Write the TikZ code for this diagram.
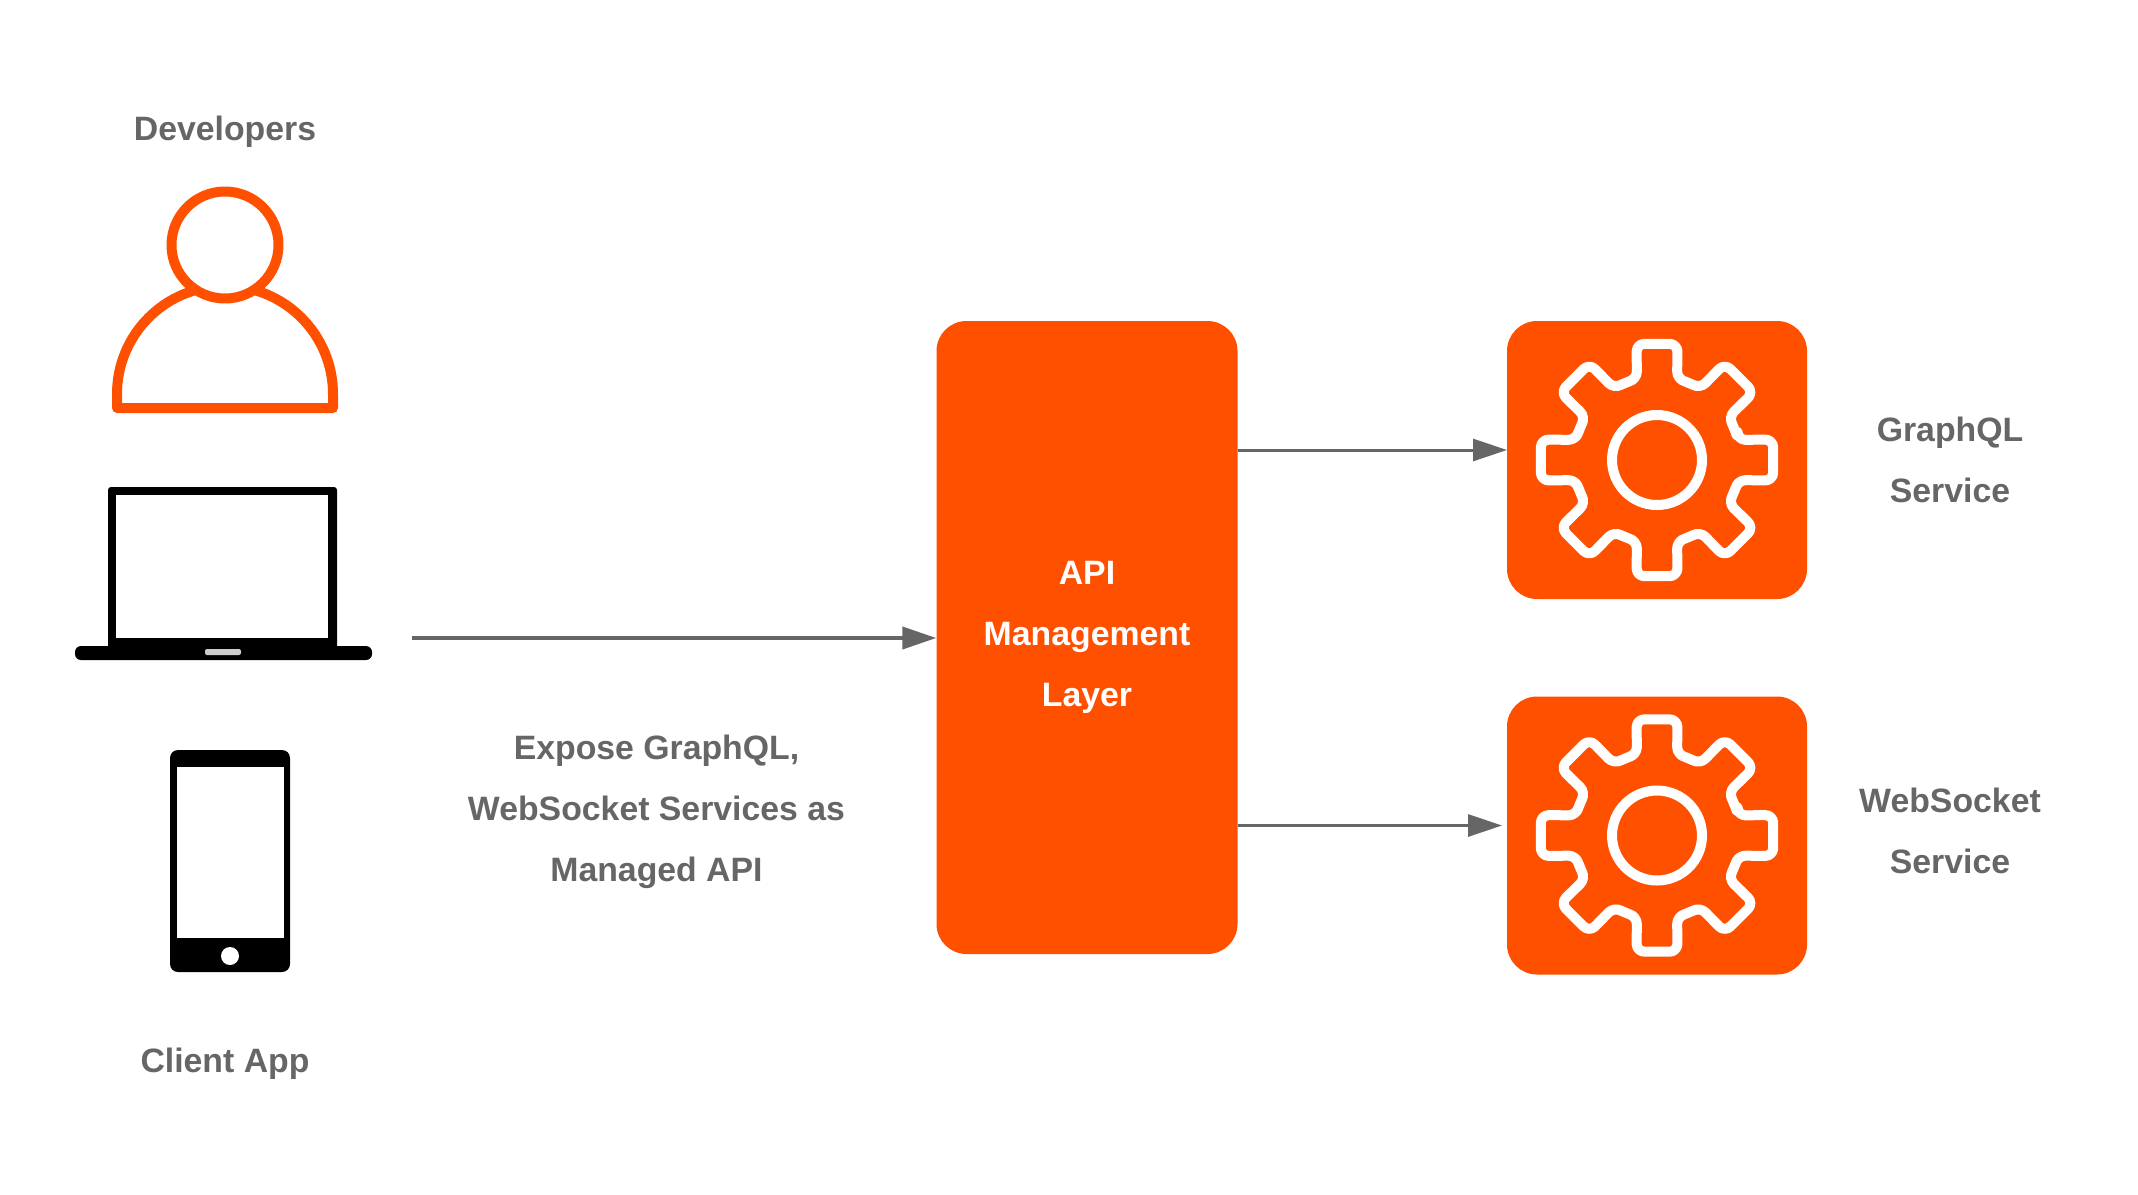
\documentclass[tikz,border=0pt]{standalone}
\usepackage{fontspec}
\setmainfont{Liberation Sans}
\usepackage{tikz}
\usetikzlibrary{arrows.meta,positioning}
\definecolor{apiorange}{HTML}{FF5000}
\definecolor{labelgrey}{HTML}{666666}
\tikzset{
  label/.style={text=labelgrey,font=\bfseries\fontsize{33.8}{61}\selectfont,align=center,inner sep=0pt},
  orangebox/.style={rectangle,fill=apiorange,rounded corners=30pt,inner sep=0pt},
  flow/.style={draw=labelgrey,line width=3pt,-{Triangle[length=34pt,width=22pt]}},
  gearline/.style={draw=white,line width=10pt,rounded corners=8pt,line join=round},
  personline/.style={draw=apiorange,line width=10pt,line join=round}
}
\newcommand{\gearicon}[1]{
\draw[gearline,shift={(#1.center)}] ({-14}:83)
  foreach \t in {0,45,...,315} { -- ({\t-10}:118) -- ({\t+10}:118) -- ({\t+14}:83)
  arc[start angle=\t+14,end angle=\t+31,radius=83] } -- cycle;
\draw[gearline,shift={(#1.center)}] (0,0) circle (45);
}
\begin{document}
\begin{tikzpicture}[x=1pt,y=-1pt]
\useasboundingbox (0,0) rectangle (2138,1194);
% person
\draw[personline] (117,408) -- (117,394) arc[start angle=180,end angle=360,radius=108] -- (333,408) -- cycle;
\draw[personline,fill=white] (225,245) circle (53.5);
% laptop
\fill[rounded corners=3pt] (108,487) rectangle (337,653);
\fill[white] (116,495) rectangle (328,638);
\fill[rounded corners=6pt] (75,646) rectangle (372,660);
\fill[white!80!black,rounded corners=2pt] (205,649) rectangle (241,655);
% phone
\fill[rounded corners=8pt] (170,750) rectangle (290,972);
\fill[white] (177,767) rectangle (284,938);
\fill[white] (230,956) circle (9);
% labels
\node[label,anchor=base] (developers) at (225,140) {Developers};
\node[label,anchor=base] (clientapp) at (225,1072.5) {Client App};
\node[label] (expose) at (656.5,811.5) {Expose GraphQL,\\WebSocket Services as\\Managed API};
% boxes
\node[orangebox,minimum width=301pt,minimum height=633pt,text=white,font=\bfseries\fontsize{33.8}{61}\selectfont,align=center] (api) at (1087,637.5) {API\\Management\\Layer};
\node[orangebox,minimum width=300pt,minimum height=278pt] (graphql) at (1657,460) {};
\node[orangebox,minimum width=300pt,minimum height=278pt] (websocket) at (1657,835.5) {};
\gearicon{graphql}
\gearicon{websocket}
\node[label] (graphqllabel) at (1950,460) {GraphQL\\Service};
\node[label] (websocketlabel) at (1950,831) {WebSocket\\Service};
% arrows
\coordinate (client) at (412,638);
\coordinate (graphqlin) at (1507,450);
\coordinate (websocketin) at (1502,825.5);
\draw[flow,line width=4pt] (client) -- (api.west |- client);
\draw[flow] (api.east |- graphqlin) -- (graphqlin);
\draw[flow] (api.east |- websocketin) -- (websocketin);
\end{tikzpicture}
\end{document}
